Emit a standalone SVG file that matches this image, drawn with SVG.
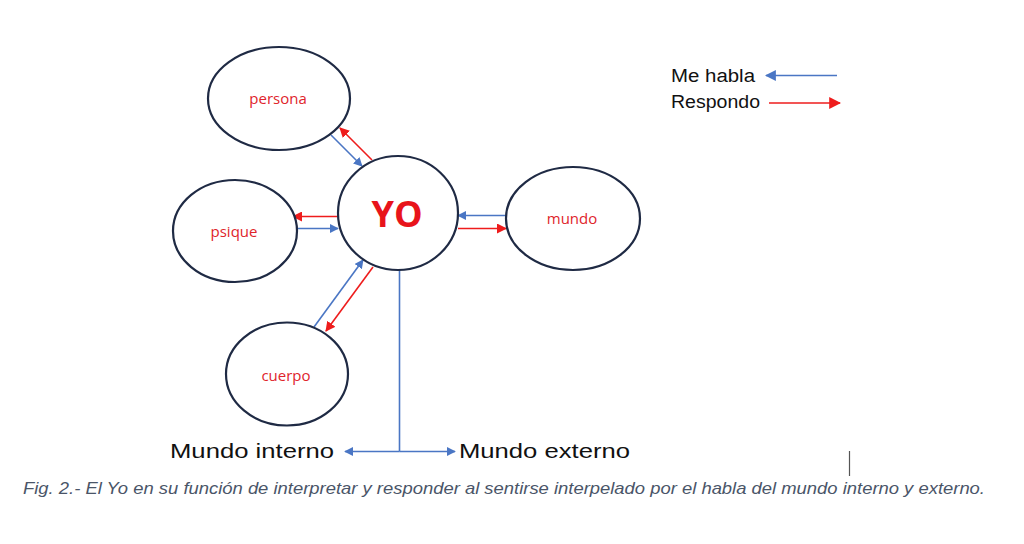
<svg xmlns="http://www.w3.org/2000/svg" width="1024" height="544" viewBox="0 0 1024 544">
<style>
.node{fill:#fff;stroke:#1f2a44;stroke-width:2.2}
.lbl{font-family:"Open Sans","Liberation Sans",sans-serif;font-size:15px;fill:#e0242b;text-anchor:middle}
.blue{stroke:#4a76c4;stroke-width:1.6;fill:none}
.red{stroke:#ee1c1c;stroke-width:1.6;fill:none}
.big{font-family:"Liberation Sans",sans-serif;font-size:21px;fill:#111}
</style>
<defs>
<marker id="ab" viewBox="0 0 10 10" refX="9" refY="5" markerWidth="9" markerHeight="9" markerUnits="userSpaceOnUse" orient="auto"><path d="M0,0L10,5L0,10z" fill="#4a76c4"/></marker>
<marker id="ar" viewBox="0 0 10 10" refX="9" refY="5" markerWidth="10" markerHeight="10" markerUnits="userSpaceOnUse" orient="auto"><path d="M0,0L10,5L0,10z" fill="#ee1c1c"/></marker>
<marker id="ab2" viewBox="0 0 10 10" refX="9" refY="5" markerWidth="11" markerHeight="11" markerUnits="userSpaceOnUse" orient="auto"><path d="M0,0L10,5L0,10z" fill="#4a76c4"/></marker>
<marker id="ar2" viewBox="0 0 10 10" refX="9" refY="5" markerWidth="12" markerHeight="12" markerUnits="userSpaceOnUse" orient="auto"><path d="M0,0L10,5L0,10z" fill="#ee1c1c"/></marker>
</defs>
<rect width="1024" height="544" fill="#fff"/>
<g id="connectors">
<line class="blue" x1="331" y1="135" x2="362" y2="166" marker-end="url(#ab)"/>
<line class="red" x1="372" y1="160" x2="340" y2="128" marker-end="url(#ar)"/>
<line class="red" x1="338" y1="216.5" x2="293" y2="216.5" marker-end="url(#ar)"/>
<line class="blue" x1="297" y1="228.5" x2="338" y2="228.5" marker-end="url(#ab)"/>
<line class="blue" x1="506" y1="215.5" x2="458" y2="215.5" marker-end="url(#ab)"/>
<line class="red" x1="458" y1="228.5" x2="506" y2="228.5" marker-end="url(#ar)"/>
<line class="blue" x1="314" y1="327" x2="363" y2="260" marker-end="url(#ab)"/>
<line class="red" x1="373" y1="267" x2="326" y2="331" marker-end="url(#ar)"/>
<polyline class="blue" points="399.5,270 399.5,451.5"/>
<line class="blue" x1="399.5" y1="451.5" x2="345" y2="451.5" marker-end="url(#ab)"/>
<line class="blue" x1="399.5" y1="451.5" x2="455" y2="451.5" marker-end="url(#ab)"/>
</g>
<g id="persona"><ellipse class="node" cx="279" cy="98.5" rx="71" ry="51.5"/><text class="lbl" x="278" y="104">persona</text></g>
<g id="psique"><ellipse class="node" cx="235" cy="231" rx="62" ry="51"/><text class="lbl" x="234" y="237">psique</text></g>
<g id="yo"><ellipse class="node" cx="398" cy="213" rx="60" ry="57"/><text x="397" y="227" text-anchor="middle" font-family="'Open Sans','Liberation Sans',sans-serif" font-weight="bold" font-size="36" fill="#e8141b">YO</text></g>
<g id="mundo"><ellipse class="node" cx="573" cy="218.5" rx="67" ry="51.5"/><text class="lbl" x="572" y="224">mundo</text></g>
<g id="cuerpo"><ellipse class="node" cx="287" cy="374" rx="61" ry="51.5"/><text class="lbl" x="286" y="381">cuerpo</text></g>
<g id="mundo-interno"><text class="big" x="170" y="457.5" textLength="164" lengthAdjust="spacingAndGlyphs">Mundo interno</text></g>
<g id="mundo-externo"><text class="big" x="459" y="457.5" textLength="171" lengthAdjust="spacingAndGlyphs">Mundo externo</text></g>
<g id="legend">
<text x="671" y="81.5" font-family="'Liberation Sans',sans-serif" font-size="18" fill="#111" textLength="84" lengthAdjust="spacingAndGlyphs">Me habla</text>
<line class="blue" x1="837" y1="75.5" x2="766" y2="75.5" marker-end="url(#ab2)"/>
<text x="671" y="108" font-family="'Liberation Sans',sans-serif" font-size="18" fill="#111" textLength="89" lengthAdjust="spacingAndGlyphs">Respondo</text>
<line class="red" x1="769" y1="103" x2="840" y2="103" marker-end="url(#ar2)"/>
</g>
<line x1="849.5" y1="451" x2="849.5" y2="476" stroke="#555" stroke-width="1.2"/>
<text x="23" y="494" font-family="'Liberation Sans',sans-serif" font-style="italic" font-size="16.5" fill="#4a5568" textLength="962" lengthAdjust="spacingAndGlyphs">Fig. 2.- El Yo en su función de interpretar y responder al sentirse interpelado por el habla del mundo interno y externo.</text>
</svg>
